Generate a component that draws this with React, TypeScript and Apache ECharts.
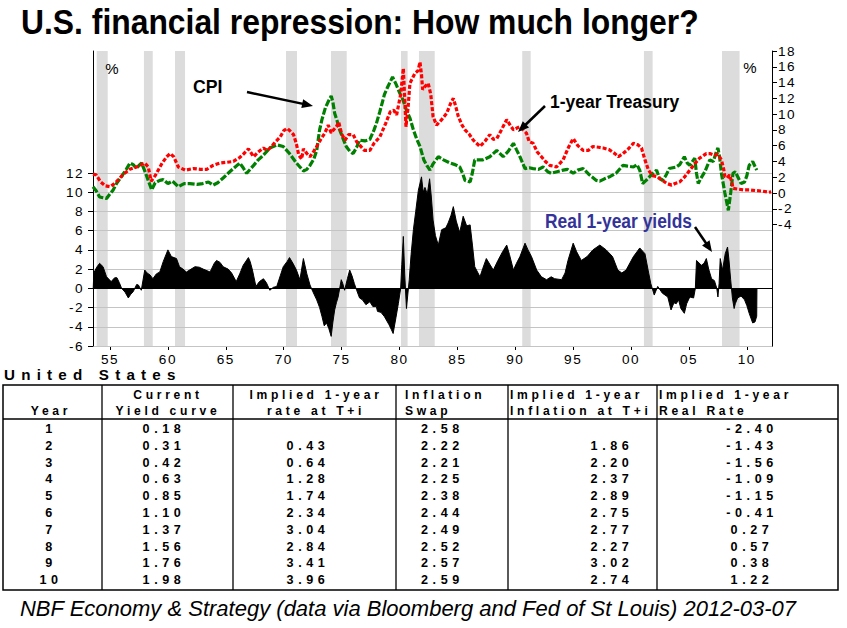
import React, { useEffect, useRef } from 'react';
import * as echarts from 'echarts';

const TITLE = 'U.S. financial repression: How much longer?';
const FOOTER = 'NBF Economy & Strategy (data via Bloomberg and Fed of St Louis) 2012-03-07';

// recession bands (decimal years)
const recessions: [number, number][] = [
  [1953.85, 1954.8], [1957.93, 1958.69], [1960.61, 1961.48], [1970.2, 1971.15],
  [1974.08, 1975.44], [1980.13, 1980.7], [1981.68, 1983.04], [1990.6, 1991.33],
  [2001.11, 2001.86], [2007.85, 2009.37],
];

// 1-year Treasury yield, %
const treasury1y: [number, number][] = [
  [1953.53, 2.4], [1953.8, 2.3], [1954.2, 1.4], [1954.6, 0.9], [1955.0, 0.8], [1955.3, 1.1], [1955.6, 1.5],
  [1956.1, 2.3], [1956.7, 3.0], [1957.3, 3.3], [1957.7, 3.6], [1958.0, 3.8], [1958.3, 3.3], [1958.55, 1.5],
  [1958.9, 2.2], [1959.5, 3.8], [1959.9, 4.6], [1960.2, 5.0], [1960.5, 4.6], [1960.9, 3.3], [1961.5, 2.9],
  [1962.2, 3.1], [1962.8, 3.0], [1963.35, 3.0], [1963.9, 3.5], [1964.5, 3.8], [1965.1, 3.9], [1965.65, 4.0],
  [1966.2, 4.5], [1966.5, 4.9], [1966.95, 5.6], [1967.4, 4.6], [1967.8, 5.2], [1968.25, 5.7], [1968.6, 5.4],
  [1968.95, 5.9], [1969.3, 6.5], [1969.7, 7.1], [1970.0, 7.9], [1970.3, 8.2], [1970.6, 7.8], [1970.85, 7.4],
  [1971.1, 6.2], [1971.3, 4.8], [1971.55, 4.3], [1971.7, 5.6], [1972.0, 5.0], [1972.27, 4.6], [1972.6, 5.3],
  [1972.85, 5.9], [1973.2, 6.8], [1973.55, 7.6], [1973.85, 8.6], [1974.1, 7.6], [1974.3, 8.0], [1974.55, 8.4],
  [1974.75, 9.0], [1975.0, 7.5], [1975.3, 6.7], [1975.6, 7.4], [1976.0, 7.4], [1976.3, 6.5], [1976.97, 5.4],
  [1977.44, 5.4], [1977.8, 6.3], [1978.3, 7.1], [1978.8, 8.8], [1979.2, 10.3], [1979.5, 10.5], [1979.75, 9.9],
  [1980.1, 12.5], [1980.33, 15.8], [1980.45, 12.0], [1980.56, 8.4], [1980.75, 11.0], [1980.9, 13.9],
  [1981.1, 14.5], [1981.34, 15.2], [1981.6, 15.5], [1981.77, 16.6], [1981.9, 15.0], [1982.0, 13.1],
  [1982.2, 13.5], [1982.48, 13.9], [1982.7, 12.5], [1982.9, 9.7], [1983.2, 8.6], [1983.64, 9.3],
  [1984.07, 10.1], [1984.4, 11.3], [1984.65, 12.0], [1984.85, 11.0], [1985.08, 9.7], [1985.4, 8.6],
  [1985.66, 8.0], [1986.0, 7.5], [1986.37, 6.7], [1986.95, 5.9], [1987.4, 6.6], [1987.8, 7.4], [1988.1, 6.8],
  [1988.4, 6.9], [1988.8, 8.0], [1989.26, 9.3], [1989.6, 8.5], [1989.84, 8.0], [1990.1, 8.2], [1990.4, 8.4],
  [1990.96, 7.6], [1991.2, 6.5], [1991.54, 6.3], [1991.9, 5.2], [1992.26, 4.6], [1992.6, 4.0], [1992.98, 3.5],
  [1993.56, 3.3], [1994.13, 4.2], [1994.6, 5.8], [1995.0, 6.9], [1995.4, 6.0], [1995.86, 5.4], [1996.3, 5.4],
  [1996.7, 5.9], [1997.2, 5.8], [1997.6, 5.7], [1998.1, 5.5], [1998.6, 5.0], [1998.9, 4.6], [1999.3, 5.0],
  [1999.7, 5.5], [2000.2, 6.3], [2000.6, 6.1], [2000.9, 5.7], [2001.2, 4.2], [2001.5, 2.9], [2001.85, 2.2],
  [2002.2, 2.1], [2002.6, 1.7], [2003.1, 1.2], [2003.5, 1.0], [2003.8, 1.2], [2004.2, 1.4], [2004.6, 2.0],
  [2005.07, 2.9], [2005.5, 3.7], [2005.9, 4.4], [2006.5, 5.0], [2006.8, 5.0], [2007.2, 4.8], [2007.5, 4.9],
  [2007.8, 4.2], [2008.0, 3.0], [2008.1, 2.1], [2008.3, 1.9], [2008.5, 2.3], [2008.7, 1.4], [2008.8, 0.6],
  [2009.2, 0.5], [2009.7, 0.4], [2010.2, 0.4], [2010.8, 0.3], [2011.3, 0.25], [2011.9, 0.1], [2012.1, 0.15],
];

// CPI inflation (year-over-year, %)
const cpi: [number, number][] = [
  [1953.53, 0.8], [1953.8, 0.3], [1954.1, -0.5], [1954.4, -0.6], [1954.7, -0.7], [1955.0, -0.1], [1955.28, 0.4],
  [1955.6, 1.3], [1956.0, 2.1], [1956.4, 3.0], [1956.73, 3.8], [1957.0, 3.6], [1957.3, 3.1], [1957.5, 3.5],
  [1957.73, 3.8], [1958.0, 2.8], [1958.3, 1.6], [1958.6, 0.4], [1958.9, 1.3], [1959.3, 1.6], [1959.6, 1.7],
  [1960.0, 1.2], [1960.4, 1.5], [1960.9, 0.8], [1961.4, 1.2], [1961.9, 1.2], [1962.5, 1.1], [1963.0, 1.2],
  [1963.5, 1.4], [1963.9, 1.0], [1964.3, 1.3], [1964.77, 1.9], [1965.2, 2.5], [1965.65, 3.1], [1966.2, 3.8],
  [1966.5, 3.2], [1966.8, 2.5], [1967.1, 3.0], [1967.4, 3.5], [1967.8, 4.2], [1968.1, 4.6], [1968.5, 5.2],
  [1968.8, 5.7], [1969.4, 6.1], [1969.96, 5.9], [1970.5, 5.0], [1971.1, 3.8], [1971.4, 3.3], [1971.7, 2.8],
  [1972.0, 3.0], [1972.27, 3.5], [1972.6, 4.3], [1972.85, 5.4], [1973.1, 8.0], [1973.3, 9.3], [1973.6, 10.8],
  [1973.85, 11.6], [1974.1, 12.3], [1974.25, 11.5], [1974.4, 10.1], [1974.6, 9.2], [1974.83, 8.0],
  [1975.1, 7.0], [1975.4, 5.9], [1975.7, 5.3], [1976.0, 5.0], [1976.3, 5.8], [1976.55, 6.7], [1977.0, 6.6],
  [1977.44, 6.8], [1977.8, 8.0], [1978.0, 8.8], [1978.3, 10.3], [1978.7, 12.5], [1979.0, 13.5], [1979.4, 14.7],
  [1979.7, 13.8], [1980.04, 12.6], [1980.3, 11.8], [1980.6, 10.5], [1980.9, 9.5], [1981.2, 8.0], [1981.5, 6.8],
  [1981.77, 5.9], [1982.1, 4.2], [1982.4, 3.4], [1982.63, 2.9], [1982.9, 3.7], [1983.35, 4.6], [1983.8, 4.2],
  [1984.36, 3.8], [1984.8, 3.6], [1985.2, 3.3], [1985.45, 2.5], [1985.66, 1.6], [1986.1, 1.4], [1986.3, 2.6],
  [1986.5, 4.2], [1987.2, 4.2], [1987.8, 4.6], [1988.4, 5.4], [1988.95, 4.6], [1989.4, 5.3], [1989.84, 6.3],
  [1990.1, 5.5], [1990.4, 4.6], [1990.84, 3.1], [1991.2, 3.2], [1991.54, 3.1], [1992.0, 3.0], [1992.4, 3.3],
  [1992.8, 2.7], [1993.1, 2.5], [1993.6, 2.7], [1994.13, 2.9], [1994.5, 3.0], [1995.0, 2.5], [1995.4, 2.9],
  [1995.86, 3.1], [1996.4, 2.3], [1997.0, 1.6], [1997.3, 1.5], [1997.7, 1.8], [1998.2, 2.1], [1998.7, 2.5],
  [1999.3, 3.5], [1999.7, 3.4], [2000.2, 3.3], [2000.5, 3.6], [2000.75, 2.9], [2001.0, 1.2], [2001.3, 1.6],
  [2001.75, 2.3], [2002.2, 2.9], [2002.45, 1.9], [2002.7, 1.6], [2003.0, 2.2], [2003.3, 3.1], [2003.6, 3.2],
  [2003.9, 3.3], [2004.2, 3.6], [2004.6, 4.6], [2004.85, 3.8], [2005.07, 3.5], [2005.3, 4.0], [2005.5, 4.4],
  [2005.65, 2.5], [2005.8, 1.2], [2006.0, 1.8], [2006.37, 2.7], [2006.6, 3.5], [2006.8, 4.2], [2007.1, 4.0],
  [2007.4, 5.4], [2007.5, 5.7], [2007.65, 4.5], [2007.8, 2.5], [2008.1, 0.0], [2008.4, -2.2], [2008.6, 0.0],
  [2008.8, 2.5], [2009.0, 2.7], [2009.2, 2.1], [2009.5, 1.2], [2009.8, 1.4], [2010.0, 2.2], [2010.2, 3.5],
  [2010.5, 4.0], [2010.85, 2.9],
];

// Real 1-year yields, %
const realYield: [number, number][] = [
  [1953.55, 0], [1953.6, 1.6], [1953.85, 2.2], [1954.1, 2.6], [1954.4, 2.25], [1954.7, 1.2], [1955.1, 0.7],
  [1955.4, 1.1], [1955.6, 1.1], [1955.8, 0.6], [1956.0, 0], [1956.3, -0.4], [1956.58, -1.0], [1956.8, -0.6],
  [1957.0, -0.35], [1957.3, 0.4], [1957.45, 0.35], [1957.7, -0.2], [1958.0, 1.9], [1958.2, 1.6], [1958.45, 1.4],
  [1958.7, 1.0], [1959.0, 1.5], [1959.3, 1.7], [1959.6, 2.8], [1960.0, 4.0], [1960.3, 3.3], [1960.74, 3.1],
  [1961.0, 2.25], [1961.3, 2.0], [1961.6, 1.7], [1962.0, 2.0], [1962.34, 2.25], [1962.7, 2.2], [1963.05, 2.0],
  [1963.64, 1.7], [1964.0, 2.6], [1964.2, 2.9], [1964.5, 2.7], [1964.77, 2.25], [1965.2, 2.0], [1965.5, 1.6],
  [1965.9, 0.7], [1966.2, 1.5], [1966.5, 2.4], [1966.95, 3.2], [1967.1, 2.8], [1967.3, 1.9], [1967.6, 0.2],
  [1967.9, 0.7], [1968.25, 1.0], [1968.5, 0.6], [1968.8, -0.2], [1969.1, 0.1], [1969.4, 0.2], [1969.7, 1.3],
  [1969.96, 2.25], [1970.3, 2.8], [1970.5, 3.2], [1970.8, 2.6], [1971.1, 1.9], [1971.4, 0.9], [1971.7, 3.1],
  [1972.0, 1.5], [1972.27, 0.35], [1972.5, -0.3], [1972.85, -1.2], [1973.1, -2.0], [1973.3, -2.9],
  [1973.5, -3.9], [1973.7, -3.6], [1973.9, -4.2], [1974.1, -5.0], [1974.25, -3.5], [1974.4, -2.25],
  [1974.55, -1.5], [1974.7, -0.9], [1974.97, 0.9], [1975.1, 0.5], [1975.26, -0.2], [1975.5, 1.0], [1975.7, 1.9],
  [1975.9, 1.3], [1976.1, 0.5], [1976.3, -0.2], [1976.55, -1.0], [1976.8, -1.2], [1977.1, -1.7], [1977.44, -1.4],
  [1977.7, -1.9], [1978.0, -1.9], [1978.1, -2.4], [1978.4, -2.5], [1978.7, -2.95], [1979.1, -3.8],
  [1979.3, -4.3], [1979.45, -4.7], [1979.7, -3.0], [1979.9, -1.6], [1980.1, 0], [1980.2, 2.5], [1980.33, 5.4],
  [1980.45, 1.5], [1980.6, -2.1], [1980.84, 0.9], [1981.0, 3.5], [1981.2, 6.1], [1981.4, 8.0], [1981.63, 10.2],
  [1981.9, 11.6], [1982.05, 10.0], [1982.2, 10.5], [1982.4, 9.8], [1982.6, 11.4], [1982.75, 9.5], [1982.9, 7.1],
  [1983.1, 5.5], [1983.35, 4.5], [1983.64, 6.1], [1984.0, 6.3], [1984.2, 6.8], [1984.45, 7.6], [1984.65, 8.5],
  [1984.9, 7.0], [1985.2, 5.8], [1985.5, 7.5], [1985.8, 6.5], [1986.1, 6.6], [1986.3, 4.5], [1986.5, 2.25],
  [1986.95, 1.2], [1987.2, 2.1], [1987.5, 3.1], [1987.8, 2.5], [1988.1, 1.9], [1988.5, 2.9], [1988.9, 3.8],
  [1989.26, 4.5], [1989.5, 3.5], [1989.84, 1.9], [1990.1, 2.6], [1990.4, 3.3], [1990.84, 4.7], [1991.1, 4.0],
  [1991.4, 3.3], [1991.85, 1.9], [1992.26, 1.2], [1992.7, 0.9], [1993.1, 1.2], [1993.4, 1.0], [1994.0, 0.9],
  [1994.3, 1.6], [1994.55, 2.9], [1995.0, 4.7], [1995.3, 3.8], [1995.7, 2.9], [1996.2, 3.3], [1996.7, 4.0],
  [1997.3, 4.5], [1997.85, 4.0], [1998.4, 3.3], [1998.85, 1.9], [1999.2, 1.6], [1999.57, 1.9], [2000.2, 3.3],
  [2000.75, 4.2], [2001.2, 3.6], [2001.47, 1.9], [2001.7, 0.5], [2002.0, -0.7], [2002.3, 0.2], [2002.7, -0.5],
  [2003.17, -0.9], [2003.45, -2.25], [2003.7, -1.5], [2003.9, -1.6], [2004.1, -1.2], [2004.3, -2.1],
  [2004.6, -2.6], [2004.8, -1.6], [2005.07, -0.9], [2005.4, -1.0], [2005.55, 0], [2005.65, 2.9], [2006.07, 2.4],
  [2006.3, 2.6], [2006.5, 3.1], [2006.7, 2.0], [2006.95, 1.0], [2007.2, 0.8], [2007.4, 0], [2007.5, -0.9],
  [2007.6, 0.5], [2007.7, 3.1], [2007.9, 1.9], [2008.13, 3.6], [2008.33, 4.3], [2008.45, 3.0], [2008.6, 0.9],
  [2008.75, -1.0], [2008.9, -2.1], [2009.0, -1.6], [2009.2, -1.0], [2009.5, -0.8], [2009.8, -1.2],
  [2010.0, -1.8], [2010.2, -2.6], [2010.5, -3.6], [2010.7, -3.5], [2010.85, -2.9], [2010.87, 0],
];

const rightTicks = [-4, -2, 0, 2, 4, 6, 8, 10, 12, 14, 16, 18];
const yearTicks = [1955, 1960, 1965, 1970, 1975, 1980, 1985, 1990, 1995, 2000, 2005, 2010];

// table
const tableTitle = 'United States';
const headerRow1 = ['', 'Current', 'Implied 1-year', 'Inflation', 'Implied 1-year', 'Implied 1-year'];
const headerRow2 = ['Year', 'Yield curve', 'rate at T+i', 'Swap', 'Inflation at T+i', 'Real Rate'];
const tableYears = ['1', '2', '3', '4', '5', '6', '7', '8', '9', '10'];
const currentCurve = ['0.18', '0.31', '0.42', '0.63', '0.85', '1.10', '1.37', '1.56', '1.76', '1.98'];
const impliedRate = ['', '0.43', '0.64', '1.28', '1.74', '2.34', '3.04', '2.84', '3.41', '3.96'];
const inflationSwap = ['2.58', '2.22', '2.21', '2.25', '2.38', '2.44', '2.49', '2.52', '2.57', '2.59'];
const impliedInflation = ['', '1.86', '2.20', '2.37', '2.89', '2.75', '2.77', '2.27', '3.02', '2.74'];
const impliedReal = ['-2.40', '-1.43', '-1.56', '-1.09', '-1.15', '-0.41', '0.27', '0.57', '0.38', '1.22'];

const FONT = "'Liberation Sans', Arial, sans-serif";
const X_MIN = 1953.53;
const X_MAX = 2012.17;

function arrow(x1: number, y1: number, x2: number, y2: number) {
  const dx = x2 - x1, dy = y2 - y1;
  const len = Math.sqrt(dx * dx + dy * dy);
  const ux = dx / len, uy = dy / len;
  const nx = -uy, ny = ux;
  const hl = 11, hw = 4.5;
  const bx = x2 - ux * hl, by = y2 - uy * hl;
  return [
    { type: 'line', z: 100, silent: true, shape: { x1, y1, x2: bx + ux * 2, y2: by + uy * 2 }, style: { stroke: '#000', lineWidth: 2.5 } },
    { type: 'polygon', z: 100, silent: true, shape: { points: [[x2, y2], [bx + nx * hw, by + ny * hw], [bx - nx * hw, by - ny * hw]] }, style: { fill: '#000' } },
  ];
}

function txt(text: string, x: number, y: number, opts: any = {}) {
  return {
    type: 'text', z: 100, silent: true, x, y,
    scaleX: opts.scaleX || 1,
    style: {
      text,
      fill: opts.fill || '#000',
      fontSize: opts.fontSize || 12,
      fontWeight: opts.fontWeight || 'normal',
      fontStyle: opts.fontStyle || 'normal',
      fontFamily: opts.fontFamily || FONT,
      textAlign: opts.align || 'left',
      textVerticalAlign: 'middle',
    },
  };
}

function buildTable() {
  const els: any[] = [];
  const edges = [3, 102, 233, 396, 508, 657, 838];
  const top = 385, headLine = 419, bottom = 590;
  els.push({ type: 'rect', z: 100, silent: true, shape: { x: edges[0], y: top, width: edges[6] - edges[0], height: bottom - top }, style: { fill: 'none', stroke: '#000', lineWidth: 1.5 } });
  for (let i = 1; i < edges.length - 1; i++) {
    els.push({ type: 'line', z: 100, silent: true, shape: { x1: edges[i], y1: top, x2: edges[i], y2: bottom }, style: { stroke: '#000', lineWidth: 1.3 } });
  }
  els.push({ type: 'line', z: 100, silent: true, shape: { x1: edges[0], y1: headLine, x2: edges[6], y2: headLine }, style: { stroke: '#000', lineWidth: 1.3 } });
  els.push(txt(tableTitle, 4, 374, { fontSize: 15.2, fontWeight: 'bold' }));
  const hdr = { fontSize: 12.1, fontWeight: 'bold' };
  const headPos: [number, string][] = [[51, 'center'], [168, 'center'], [316, 'center'], [405, 'left'], [510, 'left'], [659, 'left']];
  headerRow1.forEach((h, i) => { if (h) els.push(txt(h, headPos[i][0], 395, { ...hdr, align: headPos[i][1] })); });
  headerRow2.forEach((h, i) => { if (h) els.push(txt(h, headPos[i][0], 410.5, { ...hdr, align: headPos[i][1] })); });
  const cols = [tableYears, currentCurve, impliedRate, inflationSwap, impliedInflation, impliedReal];
  const valPos: [number, string][] = [[51, 'center'], [164, 'center'], [308, 'center'], [421, 'left'], [612, 'center'], [752, 'center']];
  cols.forEach((col, ci) => {
    col.forEach((v, ri) => {
      if (v) els.push(txt(v, valPos[ci][0], 429 + ri * 16.8, { fontSize: 12.6, fontWeight: 'bold', align: valPos[ci][1] }));
    });
  });
  return els;
}

const SPACING: [number, number][] = [[12.1, 3.7], [12.6, 4.6], [15.2, 6.2], [13.6, 1.5]];

export default function App() {
  const ref = useRef<HTMLDivElement>(null);
  useEffect(() => {
    if (!ref.current) return;
    const el = ref.current;
    const chart = echarts.init(el, null, { renderer: 'svg' });
    const axisLabelStyle = { color: '#000', fontSize: 13.6, fontFamily: FONT };
    const option: any = {
      animation: false,
      backgroundColor: '#fff',
      grid: [
        { left: 93, top: 173, width: 679, height: 173 },
        { left: 93, top: 51, width: 679, height: 295 },
      ],
      xAxis: [
        {
          gridIndex: 0, type: 'value', min: X_MIN, max: X_MAX, position: 'bottom',
          axisLine: { onZero: false, lineStyle: { color: '#000', width: 1 } },
          axisTick: { customValues: yearTicks, length: 4, lineStyle: { color: '#000' } },
          axisLabel: { ...axisLabelStyle, margin: 6, customValues: yearTicks, formatter: (v: number) => String(Math.round(v) % 100).padStart(2, '0') },
          splitLine: { show: false },
        },
        { gridIndex: 1, type: 'value', min: X_MIN, max: X_MAX, show: false },
      ],
      yAxis: [
        {
          gridIndex: 0, type: 'value', min: -6, max: 12, interval: 2, position: 'left', z: 1.5,
          axisLine: { show: true, lineStyle: { color: '#000' } },
          axisTick: { show: true, length: 5, lineStyle: { color: '#000' } },
          axisLabel: { ...axisLabelStyle, margin: 9 },
          splitLine: { show: true, lineStyle: { color: '#c4c4c4', width: 1 } },
        },
        {
          gridIndex: 1, type: 'value', min: -19.39, max: 18, position: 'right',
          axisLine: { show: true, lineStyle: { color: '#000' } },
          axisTick: { show: true, length: 5, customValues: rightTicks, lineStyle: { color: '#000' } },
          axisLabel: { ...axisLabelStyle, margin: 6, customValues: rightTicks },
          splitLine: { show: false },
        },
        {
          gridIndex: 1, type: 'value', min: 0, max: 1, position: 'left',
          axisLine: { show: true, lineStyle: { color: '#000' } },
          axisTick: { show: false }, axisLabel: { show: false }, splitLine: { show: false },
        },
      ],
      series: [
        {
          name: 'recessions', type: 'line', xAxisIndex: 1, yAxisIndex: 1, z: 1, silent: true,
          data: [[X_MIN, 0], [X_MAX, 0]], symbol: 'none', lineStyle: { width: 0, opacity: 0 },
          markArea: {
            silent: true,
            itemStyle: { color: '#dcdcdc' },
            data: recessions.map(([a, b]) => [{ xAxis: a }, { xAxis: b }]),
          },
        },
        {
          name: 'Real 1-year yields', type: 'line', xAxisIndex: 0, yAxisIndex: 0, z: 2,
          data: realYield, symbol: 'none',
          lineStyle: { color: '#000', width: 1 },
          itemStyle: { color: '#000' },
          areaStyle: { color: '#000', opacity: 1 },
          markLine: {
            silent: true, symbol: 'none', label: { show: false },
            lineStyle: { color: '#000', width: 1, type: 'solid' },
            data: [{ yAxis: 0 }],
          },
        },
        {
          name: 'CPI', type: 'line', xAxisIndex: 1, yAxisIndex: 1, z: 3,
          data: cpi, symbol: 'none',
          lineStyle: { color: '#008000', width: 3.2, type: [7, 2] },
          itemStyle: { color: '#008000' },
        },
        {
          name: '1-year Treasury', type: 'line', xAxisIndex: 1, yAxisIndex: 1, z: 4,
          data: treasury1y, symbol: 'none',
          lineStyle: { color: '#ff0000', width: 3.2, type: [4, 2] },
          itemStyle: { color: '#ff0000' },
        },
      ],
      graphic: {
        elements: [
          txt(TITLE, 21, 22, { fontSize: 35, fontWeight: 'bold', scaleX: 0.91 }),
          txt('%', 112, 68, { fontSize: 15, align: 'center' }),
          txt('%', 750, 67, { fontSize: 15, align: 'center' }),
          txt('CPI', 193, 86, { fontSize: 19, fontWeight: 'bold', scaleX: 0.93 }),
          ...arrow(247, 92, 313, 106),
          txt('1-year Treasury', 550, 101, { fontSize: 19, fontWeight: 'bold', scaleX: 0.92 }),
          ...arrow(545, 106, 518, 132),
          txt('Real 1-year yields', 545, 221, { fontSize: 20, fontWeight: 'bold', fill: '#333399', scaleX: 0.87 }),
          ...arrow(695, 227, 712, 252),
          ...buildTable(),
          txt(FOOTER, 408, 608, { fontSize: 22, fontStyle: 'italic', align: 'center', scaleX: 1 }),
        ],
      },
    };
    chart.setOption(option);
    const applySpacing = () => {
      el.querySelectorAll('text').forEach((t) => {
        const fs = parseFloat(getComputedStyle(t).fontSize);
        for (const [size, sp] of SPACING) {
          if (Math.abs(fs - size) < 0.05) {
            (t as SVGTextElement).style.letterSpacing = sp + 'px';
          }
        }
      });
    };
    const zr: any = chart.getZr();
    if (zr && zr.flush) zr.flush();
    applySpacing();
    chart.on('finished', applySpacing);
    return () => {
      chart.dispose();
    };
  }, []);
  return <div ref={ref} style={{ position: 'absolute', left: 0, top: 0, width: 847, height: 628, background: '#fff' }} />;
}
